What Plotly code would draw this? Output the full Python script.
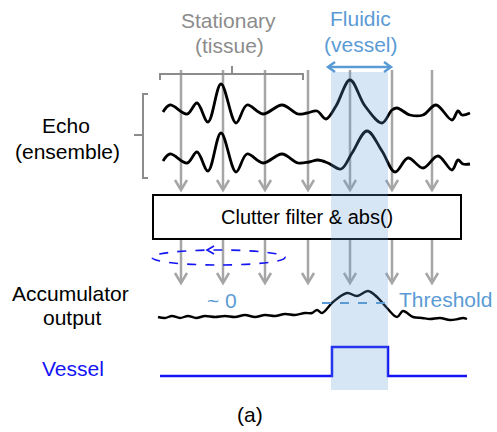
import plotly.graph_objects as go

# Canvas coordinates (pixels, y grows downward)
W, H = 497, 432

# Echo ensemble: two received echo lines (x, y samples)
echo1_x = [163, 170, 187, 197, 208, 221, 236, 247, 263, 282, 298, 307, 317, 326, 336,
           350, 365, 382, 392, 397, 410, 423, 436, 452, 458, 462, 470]
echo1_y = [112, 105, 114, 103, 122, 84, 123, 105, 114, 105, 114, 113, 111, 119, 106,
           80, 106, 123, 110, 108, 115, 115, 105, 120, 111, 115, 113]

echo2_x = [163, 170, 187, 197, 208, 221, 236, 247, 263, 282, 298, 309, 318, 328, 341,
           352, 367, 382, 395, 408, 423, 438, 452, 458, 463, 470]
echo2_y = [161, 154, 163, 152, 171, 133, 172, 154, 163, 154, 163, 162, 160, 163, 169,
           153, 131, 151, 172, 158, 168, 156, 170, 160, 164, 164]

# Accumulator output after clutter filtering
acc_x = [158, 165, 172, 180, 188, 196, 205, 215, 225, 235, 245, 255, 265, 275, 285,
         295, 305, 312, 317, 322, 333, 347, 357, 368, 377, 387, 397, 403, 413, 422,
         430, 440, 450, 458, 463, 467]
acc_y = [317, 318, 316, 318, 316, 318, 316, 317, 316, 317, 315, 317, 315, 316, 314,
         315, 313, 313, 310, 313, 302, 293, 296, 291, 297, 308, 317, 311, 317, 318,
         319, 318, 320, 319, 318, 319]

# Vessel detection output (binary step)
vessel_x = [160, 332, 332, 388, 388, 467]
vessel_y = [376, 376, 347, 347, 376, 376]

# Sampling positions of the ensemble (arrow columns)
arrow_x = [181, 223, 265, 308, 350, 392, 432]

# Vessel region and threshold level
vessel_x0, vessel_x1 = 331, 388
threshold_y = 303
threshold_x = [322, 393]

GRAY = "#a6a6a6"
LBLUE = "#5b9bd5"
BLUE = "#1414f5"
FONT = "Liberation Sans, Arial, sans-serif"

fig = go.Figure()

shapes = []

# Gray sampling arrows: top stage (into the filter) and bottom stage (out of it)
def arrow(x, y0, y1):
    shapes.append(dict(type="line", x0=x, x1=x, y0=y0, y1=y1 - 1,
                       line=dict(color=GRAY, width=2.5), layer="below"))
    shapes.append(dict(type="path",
                       path=f"M {x-6},{y1-10} L {x},{y1} L {x+6},{y1-10}",
                       line=dict(color=GRAY, width=2.5), layer="below"))

for x in arrow_x:
    arrow(x, 70, 190)
    arrow(x, 239, 283)

# Filter box
shapes.append(dict(type="rect", x0=153, x1=461, y0=195, y1=239,
                   line=dict(color="black", width=2), fillcolor="white", layer="above"))

# Bracket over the stationary columns
shapes.append(dict(type="path", path="M 160,80 L 160,74 L 303,74 L 303,80",
                   line=dict(color="#8c8c8c", width=2)))
shapes.append(dict(type="line", x0=232, x1=232, y0=74, y1=66,
                   line=dict(color="#8c8c8c", width=2)))

# Brace grouping the echo ensemble
shapes.append(dict(type="path",
                   path="M 148,94 L 143,94 L 143,135 L 134,135 M 143,135 L 143,178 L 148,178",
                   line=dict(color="#8c8c8c", width=2)))

# Fluidic double-headed arrow
shapes.append(dict(type="line", x0=329, x1=390, y0=67, y1=67,
                   line=dict(color=LBLUE, width=2.5)))
shapes.append(dict(type="path", path="M 335,62 L 328,67 L 335,72",
                   line=dict(color=LBLUE, width=2.5)))
shapes.append(dict(type="path", path="M 384,62 L 391,67 L 384,72",
                   line=dict(color=LBLUE, width=2.5)))

# Dashed loop around the stationary columns
shapes.append(dict(type="circle", x0=152, x1=285, y0=250, y1=265,
                   line=dict(color=BLUE, width=1.6, dash="dash")))
shapes.append(dict(type="path", path="M 214,246 L 207,250 L 214,254",
                   line=dict(color=BLUE, width=1.6)))

# Threshold level
shapes.append(dict(type="line", x0=threshold_x[0], x1=threshold_x[1],
                   y0=threshold_y, y1=threshold_y,
                   line=dict(color=LBLUE, width=2, dash="dash")))

# Shaded vessel column (translucent, on top)
shapes.append(dict(type="rect", x0=vessel_x0, x1=vessel_x1, y0=72, y1=390,
                   line=dict(width=0), fillcolor="rgba(91,155,213,0.25)", layer="above"))

fig.add_trace(go.Scatter(x=echo1_x, y=echo1_y, mode="lines",
                         line=dict(color="black", width=2.8, shape="spline", smoothing=1.0)))
fig.add_trace(go.Scatter(x=echo2_x, y=echo2_y, mode="lines",
                         line=dict(color="black", width=2.8, shape="spline", smoothing=1.0)))
fig.add_trace(go.Scatter(x=acc_x, y=acc_y, mode="lines",
                         line=dict(color="black", width=2.4, shape="spline", smoothing=1.0)))
fig.add_trace(go.Scatter(x=vessel_x, y=vessel_y, mode="lines",
                         line=dict(color=BLUE, width=2.5)))

def label(text, x, y, color="black", size=21):
    return dict(text=text, x=x, y=y, xref="x", yref="y", showarrow=False,
                xanchor="center", yanchor="middle",
                font=dict(family=FONT, size=size, color=color))

annotations = [
    label("Stationary", 228, 20, "#8c8c8c"),
    label("(tissue)", 229, 45, "#8c8c8c"),
    label("Fluidic", 360, 18, LBLUE),
    label("(vessel)", 361, 44, LBLUE),
    label("Echo", 66, 125),
    label("(ensemble)", 67, 151),
    label("Clutter filter & abs()", 307, 217, size=20),
    label("~ 0", 222, 300, LBLUE),
    label("Threshold", 445, 299, LBLUE),
    label("Accumulator", 70, 293),
    label("output", 72, 317),
    label("Vessel", 73, 368, BLUE),
    label("(a)", 250, 414),
]

fig.update_layout(
    width=W, height=H,
    margin=dict(l=0, r=0, t=0, b=0),
    paper_bgcolor="white", plot_bgcolor="white",
    showlegend=False,
    shapes=shapes,
    annotations=annotations,
    xaxis=dict(range=[0, W], visible=False, fixedrange=True),
    yaxis=dict(range=[H, 0], visible=False, fixedrange=True),
)

fig.write_html("out.html")
